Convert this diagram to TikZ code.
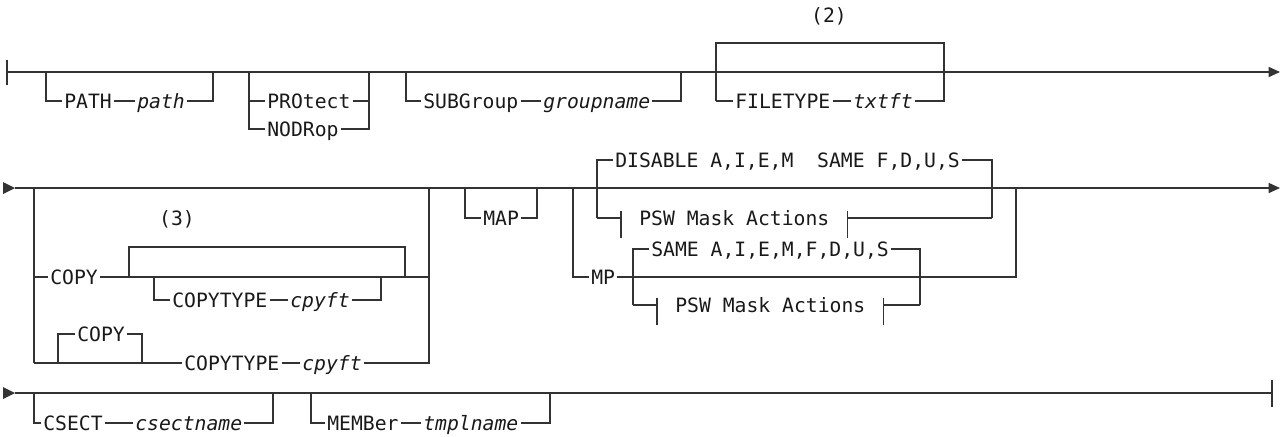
\documentclass[tikz,border=0pt]{standalone}
\usepackage{fontspec}
\setmonofont{DejaVu Sans Mono}
\usetikzlibrary{arrows.meta}

\begin{document}
\begin{tikzpicture}[x=0.75pt,y=-0.75pt,
  rail/.style={line width=1.1pt,draw=black!80},
  endtip/.style={-{Triangle[length=8.5pt,width=7.5pt]}},
  kw/.style={font=\fontsize{14.8}{16}\selectfont\ttfamily,text=black!90,anchor=west,
    inner xsep=1.5pt,inner ysep=0pt,text height=10.8pt,text depth=0pt},
  var/.style={kw,font=\fontsize{14.8}{16}\selectfont\ttfamily\itshape},
  fragref/.style={kw,inner xsep=13.5pt},
  note/.style={kw,anchor=center}]
\useasboundingbox (0,0) rectangle (1281,436);

% Line 1: start bar and main line
\draw[rail] (7,60) -- (7,85);
\draw[rail,endtip] (7,72) -- (1280,72);

% PATH path
\node (pathkw) at (62,101) [kw] {PATH};
\node (pathvar) at (135,101) [var] {path};
\draw[rail] (46,72) |- (pathkw.west);
\draw[rail] (pathkw.east) -- (pathvar.west);
\draw[rail] (pathvar.east) -| (213,72);

% PROtect / NODRop
\node (protect) at (265,101) [kw] {PROtect};
\node (nodrop) at (265,129) [kw] {NODRop};
\draw[rail] (249,72) |- (nodrop.west);
\draw[rail] (249,101) -- (protect.west);
\draw[rail] (protect.east) -- (369,101);
\draw[rail] (nodrop.east) -| (369,72);

% SUBGroup groupname
\node (subgroup) at (421,101) [kw] {SUBGroup};
\node (groupname) at (541,101) [var] {groupname};
\draw[rail] (406,72) |- (subgroup.west);
\draw[rail] (subgroup.east) -- (groupname.west);
\draw[rail] (groupname.east) -| (681,72);

% FILETYPE txtft, repeatable (2)
\node (filetype) at (733,101) [kw] {FILETYPE};
\node (txtft) at (851,101) [var] {txtft};
\draw[rail] (716,101) |- (944,43) -- (944,72);
\draw[rail] (716,101) -- (filetype.west);
\draw[rail] (filetype.east) -- (txtft.west);
\draw[rail] (txtft.east) -| (944,72);
\node (notetwo) at (829,15) [note] {(2)};

% Line 2: main line
\fill[black!80] (3,182) -- (15,188) -- (3,194) -- cycle;
\draw[rail,endtip] (15,188) -- (1280,188);

% COPY block
\draw[rail] (34,188) -- (34,363);
\node (copy) at (48,277) [kw] {COPY};
\draw[rail] (34,277) -- (copy.west);
\draw[rail] (copy.east) -| (429,188);
\draw[rail] (129,277) |- (405,247) -- (405,277);
\node (copytype) at (170,300) [kw] {COPYTYPE};
\node (cpyft) at (288,300) [var] {cpyft};
\draw[rail] (154,277) |- (copytype.west);
\draw[rail] (copytype.east) -- (cpyft.west);
\draw[rail] (cpyft.east) -| (381,277);
\node (notethree) at (177,218) [note] {(3)};

% COPY (default) COPYTYPE cpyft
\node (copyb) at (75,334) [kw] {COPY};
\node (copytypeb) at (182,363) [kw] {COPYTYPE};
\node (cpyftb) at (300,363) [var] {cpyft};
\draw[rail] (34,363) -- (copytypeb.west);
\draw[rail] (58,363) |- (copyb.west);
\draw[rail] (copyb.east) -| (142,363);
\draw[rail] (copytypeb.east) -- (cpyftb.west);
\draw[rail] (cpyftb.east) -| (429,277);

% MAP
\node (map) at (481,218) [kw] {MAP};
\draw[rail] (465,188) |- (map.west);
\draw[rail] (map.east) -| (537,188);

% MP
\node (mp) at (589,277) [kw] {MP};
\draw[rail] (573,188) |- (mp.west);
\draw[rail] (mp.east) -| (1016,188);

% DISABLE default / PSW Mask Actions
\node (disable) at (613,160) [kw] {DISABLE A,I,E,M\ \ SAME F,D,U,S};
\node (pswa) at (621,218) [fragref] {PSW Mask Actions};
\draw[rail] (597,218) |- (disable.west);
\draw[rail] (disable.east) -| (992,218);
\draw[rail] (597,218) -- (pswa.west);
\draw[rail] (pswa.east) -- (992,218);

% SAME default / PSW Mask Actions
\node (same) at (649,249) [kw] {SAME A,I,E,M,F,D,U,S};
\node (pswb) at (657,305) [fragref] {PSW Mask Actions};
\draw[rail] (633,305) |- (same.west);
\draw[rail] (same.east) -| (920,305);
\draw[rail] (633,305) -- (pswb.west);
\draw[rail] (pswb.east) -- (920,305);

% fragment ticks
\foreach \n in {pswa,pswb} {
  \draw[rail] ([yshift=5.25pt]\n.west) -- ([yshift=-15pt]\n.west);
  \draw[rail] ([yshift=5.25pt]\n.east) -- ([yshift=-15pt]\n.east);
}

% Line 3: main line and end bar
\fill[black!80] (3,387) -- (15,393) -- (3,399) -- cycle;
\draw[rail] (15,393) -- (1272,393);
\draw[rail] (1272,380) -- (1272,407);

% CSECT csectname
\node (csect) at (41,423) [kw] {CSECT};
\node (csectname) at (133,423) [var] {csectname};
\draw[rail] (34,393) |- (csect.west);
\draw[rail] (csect.east) -- (csectname.west);
\draw[rail] (csectname.east) -| (273,393);

% MEMBer tmplname
\node (member) at (325,423) [kw] {MEMBer};
\node (tmplname) at (421,423) [var] {tmplname};
\draw[rail] (311,393) |- (member.west);
\draw[rail] (member.east) -- (tmplname.west);
\draw[rail] (tmplname.east) -| (550,393);
\end{tikzpicture}
\end{document}
